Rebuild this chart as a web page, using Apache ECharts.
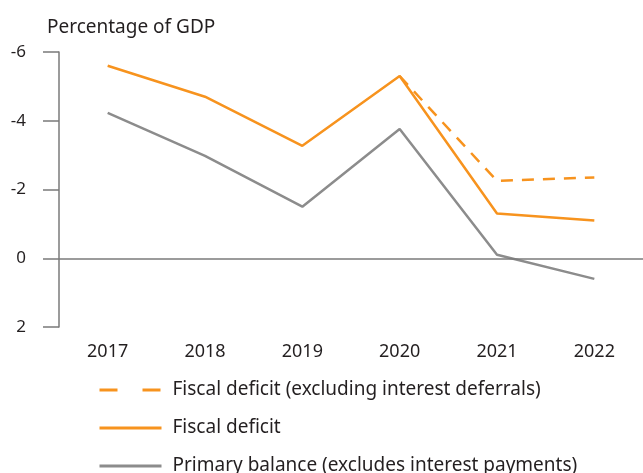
<!DOCTYPE html>
<html><head><meta charset="utf-8">
<script src="https://cdn.jsdelivr.net/npm/echarts@6/dist/echarts.min.js"></script>
<style>html,body{margin:0;padding:0;background:#fff}#c{width:643px;height:473px}</style>
</head><body><div id="c"></div>
<script>
const years = ['2017','2018','2019','2020','2021','2022'];
const yTicks = [-6, -4, -2, 0, 2];
const fiscalDeficitExclDeferrals = [null, null, null, -5.3, -2.25, -2.35];
const fiscalDeficit = [-5.6, -4.7, -3.27, -5.3, -1.3, -1.1];
const primaryBalance = [-4.23, -2.98, -1.5, -3.76, -0.1, 0.6];
const names = ['Fiscal deficit (excluding interest deferrals)', 'Fiscal deficit', 'Primary balance (excludes interest payments)'];

const orange = '#f7931e', grey = '#8c8c8c', axisGrey = '#7a7a7a', txt = '#231f20';
const font = 'Noto Sans';
const chart = echarts.init(document.getElementById('c'), null, {renderer: 'canvas'});
chart.setOption({
  animation: false,
  textStyle: {fontFamily: font},
  title: {text: 'Percentage of GDP', left: 42, top: 13,
    textStyle: {fontFamily: font, fontSize: 19, fontWeight: 'normal', color: txt}},
  grid: {left: 59, right: -1, top: 52, bottom: 146},
  legend: {
    orient: 'vertical', left: 93, top: 375, height: 160, width: 550,
    itemWidth: 62, itemHeight: 20, itemGap: 18,
    itemStyle: {opacity: 0},
    textStyle: {fontFamily: font, fontSize: 19, color: txt, lineHeight: 20, padding: [0, 0, 0, 6]},
    data: [
      {name: names[0], lineStyle: {type: [18, 25], width: 3, color: orange}},
      {name: names[1], lineStyle: {width: 3, color: orange}},
      {name: names[2], lineStyle: {width: 3, color: grey}}
    ]
  },
  xAxis: {
    type: 'category', data: years, boundaryGap: true,
    axisLine: {show: false}, axisTick: {show: false},
    axisLabel: {color: txt, fontSize: 18, fontFamily: font, margin: 16}
  },
  yAxis: {
    type: 'value', inverse: true, min: -6, max: 2, interval: 2,
    axisLine: {show: true, lineStyle: {color: axisGrey, width: 1.5}},
    axisTick: {show: true, length: 16, lineStyle: {color: axisGrey, width: 1.5}},
    axisLabel: {color: txt, fontSize: 17, fontFamily: font, margin: 33,
      formatter: v => yTicks.includes(v) ? String(v) : ''},
    splitLine: {show: false}
  },
  series: [
    {name: names[1], type: 'line', data: fiscalDeficit, symbol: 'none',
      lineStyle: {color: orange, width: 2.5}, itemStyle: {color: orange}, z: 3,
      markLine: {silent: true, symbol: 'none', label: {show: false},
        lineStyle: {color: axisGrey, width: 1.5, type: 'solid'}, data: [{yAxis: 0}]}},
    {name: names[2], type: 'line', data: primaryBalance, symbol: 'none',
      lineStyle: {color: grey, width: 2.5}, itemStyle: {color: grey}, z: 2},
    {name: names[0], type: 'line', data: fiscalDeficitExclDeferrals, symbol: 'none',
      lineStyle: {color: orange, width: 2.5, type: [12, 9]}, itemStyle: {color: orange}, z: 4}
  ]
});
</script></body></html>
